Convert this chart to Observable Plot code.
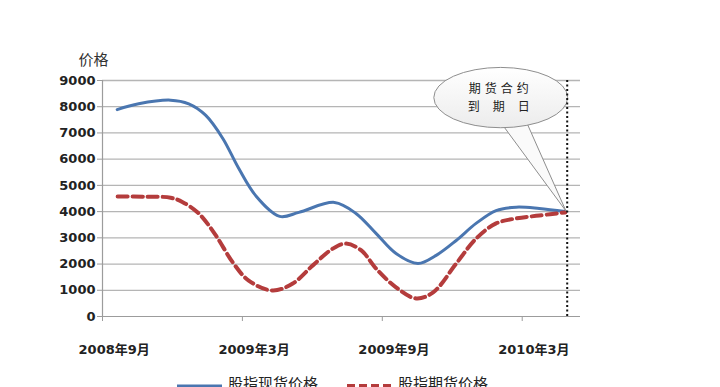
<!DOCTYPE html>
<html>
<head>
<meta charset="utf-8">
<script src="https://cdn.jsdelivr.net/npm/d3@7"></script>
<script src="https://cdn.jsdelivr.net/npm/@observablehq/plot@0.6"></script>
<style>
  html, body { margin: 0; padding: 0; background: #fff; }
  #legend { position: relative; width: 720px; height: 27px; overflow: hidden;
    font-family: "Noto Sans CJK SC", sans-serif; font-size: 15px; color: #222; }
  #legend span { position: absolute; line-height: 15px; white-space: nowrap; }
  #legend svg { position: absolute; }
</style>
</head>
<body>
<div id="chart"></div>
<div id="legend"></div>
<script>
// ---- data (x = months since 2008年9月) ----
const yTicks = [0, 1000, 2000, 3000, 4000, 5000, 6000, 7000, 8000, 9000];
const xTickBounds = [-0.5, 5.5, 11.5, 17.5];
const xLabelMonths = [0, 6, 12, 18];
const xLabels = ["2008年9月", "2009年3月", "2009年9月", "2010年3月"];
const yLabel = "价格";

const seriesNames = ["股指现货价格", "股指期货价格"];

const spotMonth = [0.13, 1.05, 2.42, 3.2, 3.93, 4.66, 5.34, 6.07, 7.1, 7.92, 9.45, 10.37, 11.23, 12.09, 13.03, 13.81, 14.67, 15.52, 16.38, 17.24, 18.23, 19.35];
const spotValue = [7890, 8110, 8250, 8110, 7670, 6790, 5650, 4610, 3820, 3970, 4350, 3930, 3170, 2400, 2020, 2330, 2900, 3550, 4040, 4170, 4120, 4000];

const futMonth = [0.15, 1.3, 2.42, 2.94, 3.63, 4.36, 5.09, 5.77, 6.8, 7.66, 8.52, 9.38, 9.94, 10.6, 11.23, 12.09, 12.95, 13.68, 14.67, 15.52, 16.38, 17.24, 18.23, 19.35];
const futValue = [4580, 4570, 4530, 4360, 3930, 3090, 2060, 1370, 990, 1260, 1950, 2590, 2780, 2520, 1830, 1110, 690, 920, 2020, 2970, 3550, 3740, 3850, 3970];

const expiryMonth = 19.43;
const calloutLines = ["期货合约", "到期日"];
const calloutCenter = [16.6, 8330];      // month, value
const calloutRadius = [2.87, 1150];      // months, value units
const calloutTailBase = [[16.68, 7285], [17.76, 7285]];
const calloutTip = [19.4, 4000];

const spot = spotMonth.map((m, i) => ({m, v: spotValue[i]}));
const fut = futMonth.map((m, i) => ({m, v: futValue[i]}));

const blue = "#4a76b0";
const red = "#b43c3c";
const font = "'DejaVu Sans','Noto Sans CJK SC',sans-serif";

const plot = Plot.plot({
  width: 720, height: 360,
  marginLeft: 102, marginRight: 140, marginTop: 80, marginBottom: 44,
  style: {fontFamily: font, fontSize: "13px", background: "white", overflow: "visible"},
  x: {domain: [-0.5, 20], axis: null, label: null},
  y: {domain: [0, 9000], axis: null, label: null},
  marks: [
    Plot.ruleY(yTicks.filter(d => d > 0), {x1: -0.5, x2: 20, stroke: "#b5b5b5", strokeWidth: 1.3}),
    Plot.ruleY([0], {x1: -0.5, x2: 20, stroke: "#9c9c9c", strokeWidth: 1.2}),
    Plot.ruleX([-0.5], {y1: 0, y2: 9000, stroke: "#9c9c9c", strokeWidth: 1.2}),
    Plot.axisY({ticks: yTicks, label: null, tickSize: 5, tickPadding: 2, tickFormat: d => String(d),
      stroke: "#9c9c9c", fill: "#222", fontWeight: "bold", fontSize: 13}),
    Plot.axisX({ticks: xTickBounds, label: null, tickSize: 5, tickFormat: () => "", stroke: "#9c9c9c"}),
    Plot.axisX({ticks: xLabelMonths, label: null, tickSize: 0, tickPadding: 28,
      tickFormat: d => xLabels[xLabelMonths.indexOf(d)], fill: "#222", fontWeight: "bold", fontSize: 13}),
    Plot.text([yLabel], {frameAnchor: "top-left", dx: -9, dy: -26, textAnchor: "middle",
      fontSize: 15, fill: "#333"}),
    Plot.line(spot, {x: "m", y: "v", curve: "catmull-rom", stroke: blue, strokeWidth: 3}),
    Plot.line(fut, {x: "m", y: "v", curve: "catmull-rom", stroke: red, strokeWidth: 4,
      strokeDasharray: "10,5"}),
    Plot.ruleX([expiryMonth], {y1: 0, y2: 9100, stroke: "#111", strokeWidth: 2, strokeDasharray: "2,2.5"})
  ]
});

// ---- callout annotation drawn through the plot's scales ----
const sx = plot.scale("x"), sy = plot.scale("y");
const X = v => sx.apply(v), Y = v => sy.apply(v);
const ns = "http://www.w3.org/2000/svg";
const g = document.createElementNS(ns, "g");
const defs = document.createElementNS(ns, "defs");
defs.innerHTML = '<linearGradient id="cg" x1="0" y1="0" x2="0" y2="1"><stop offset="0" stop-color="#ffffff"/><stop offset="1" stop-color="#ececec"/></linearGradient>';
g.appendChild(defs);
const tail = document.createElementNS(ns, "polygon");
tail.setAttribute("points", [
  [X(calloutTailBase[0][0]), Y(calloutTailBase[0][1])],
  [X(calloutTip[0]), Y(calloutTip[1])],
  [X(calloutTailBase[1][0]), Y(calloutTailBase[1][1])]
].map(p => p.join(",")).join(" "));
tail.setAttribute("fill", "#fafafa");
tail.setAttribute("stroke", "#8e8e8e");
tail.setAttribute("stroke-width", "1");
g.appendChild(tail);
const ell = document.createElementNS(ns, "ellipse");
const cx = X(calloutCenter[0]), cy = Y(calloutCenter[1]);
ell.setAttribute("cx", cx);
ell.setAttribute("cy", cy);
ell.setAttribute("rx", X(calloutCenter[0] + calloutRadius[0]) - cx);
ell.setAttribute("ry", cy - Y(calloutCenter[1] + calloutRadius[1]));
ell.setAttribute("fill", "url(#cg)");
ell.setAttribute("stroke", "#8e8e8e");
ell.setAttribute("stroke-width", "1");
g.appendChild(ell);
const spacing = [4, 13];
calloutLines.forEach((t, i) => {
  const tx = document.createElementNS(ns, "text");
  tx.textContent = t;
  tx.setAttribute("x", cx - 2 + spacing[i] / 2);
  tx.setAttribute("y", cy - 8 + i * 18);
  tx.setAttribute("text-anchor", "middle");
  tx.setAttribute("dominant-baseline", "middle");
  tx.setAttribute("font-size", "12");
  tx.setAttribute("fill", "#222");
  tx.setAttribute("font-family", "'Noto Sans CJK SC',sans-serif");
  tx.setAttribute("letter-spacing", spacing[i]);
  g.appendChild(tx);
});
// insert callout before the dotted expiry rule (last child)
plot.insertBefore(g, plot.lastChild);
document.getElementById("chart").appendChild(plot);

// ---- legend below the svg ----
const legend = document.getElementById("legend");
const items = [
  {name: seriesNames[0], color: blue, dash: null, width: 3, left: 177},
  {name: seriesNames[1], color: red, dash: "8,4", width: 4, left: 347}
];
items.forEach(it => {
  const s = document.createElementNS(ns, "svg");
  s.setAttribute("width", 46); s.setAttribute("height", 6);
  s.style.left = it.left + "px"; s.style.top = "23px";
  const l = document.createElementNS(ns, "line");
  l.setAttribute("x1", 0); l.setAttribute("x2", 45); l.setAttribute("y1", 3); l.setAttribute("y2", 3);
  l.setAttribute("stroke", it.color); l.setAttribute("stroke-width", it.width);
  if (it.dash) l.setAttribute("stroke-dasharray", it.dash);
  s.appendChild(l);
  legend.appendChild(s);
  const sp = document.createElement("span");
  sp.textContent = it.name;
  sp.style.left = (it.left + 51) + "px";
  sp.style.top = "15px";
  legend.appendChild(sp);
});
</script>
</body>
</html>
